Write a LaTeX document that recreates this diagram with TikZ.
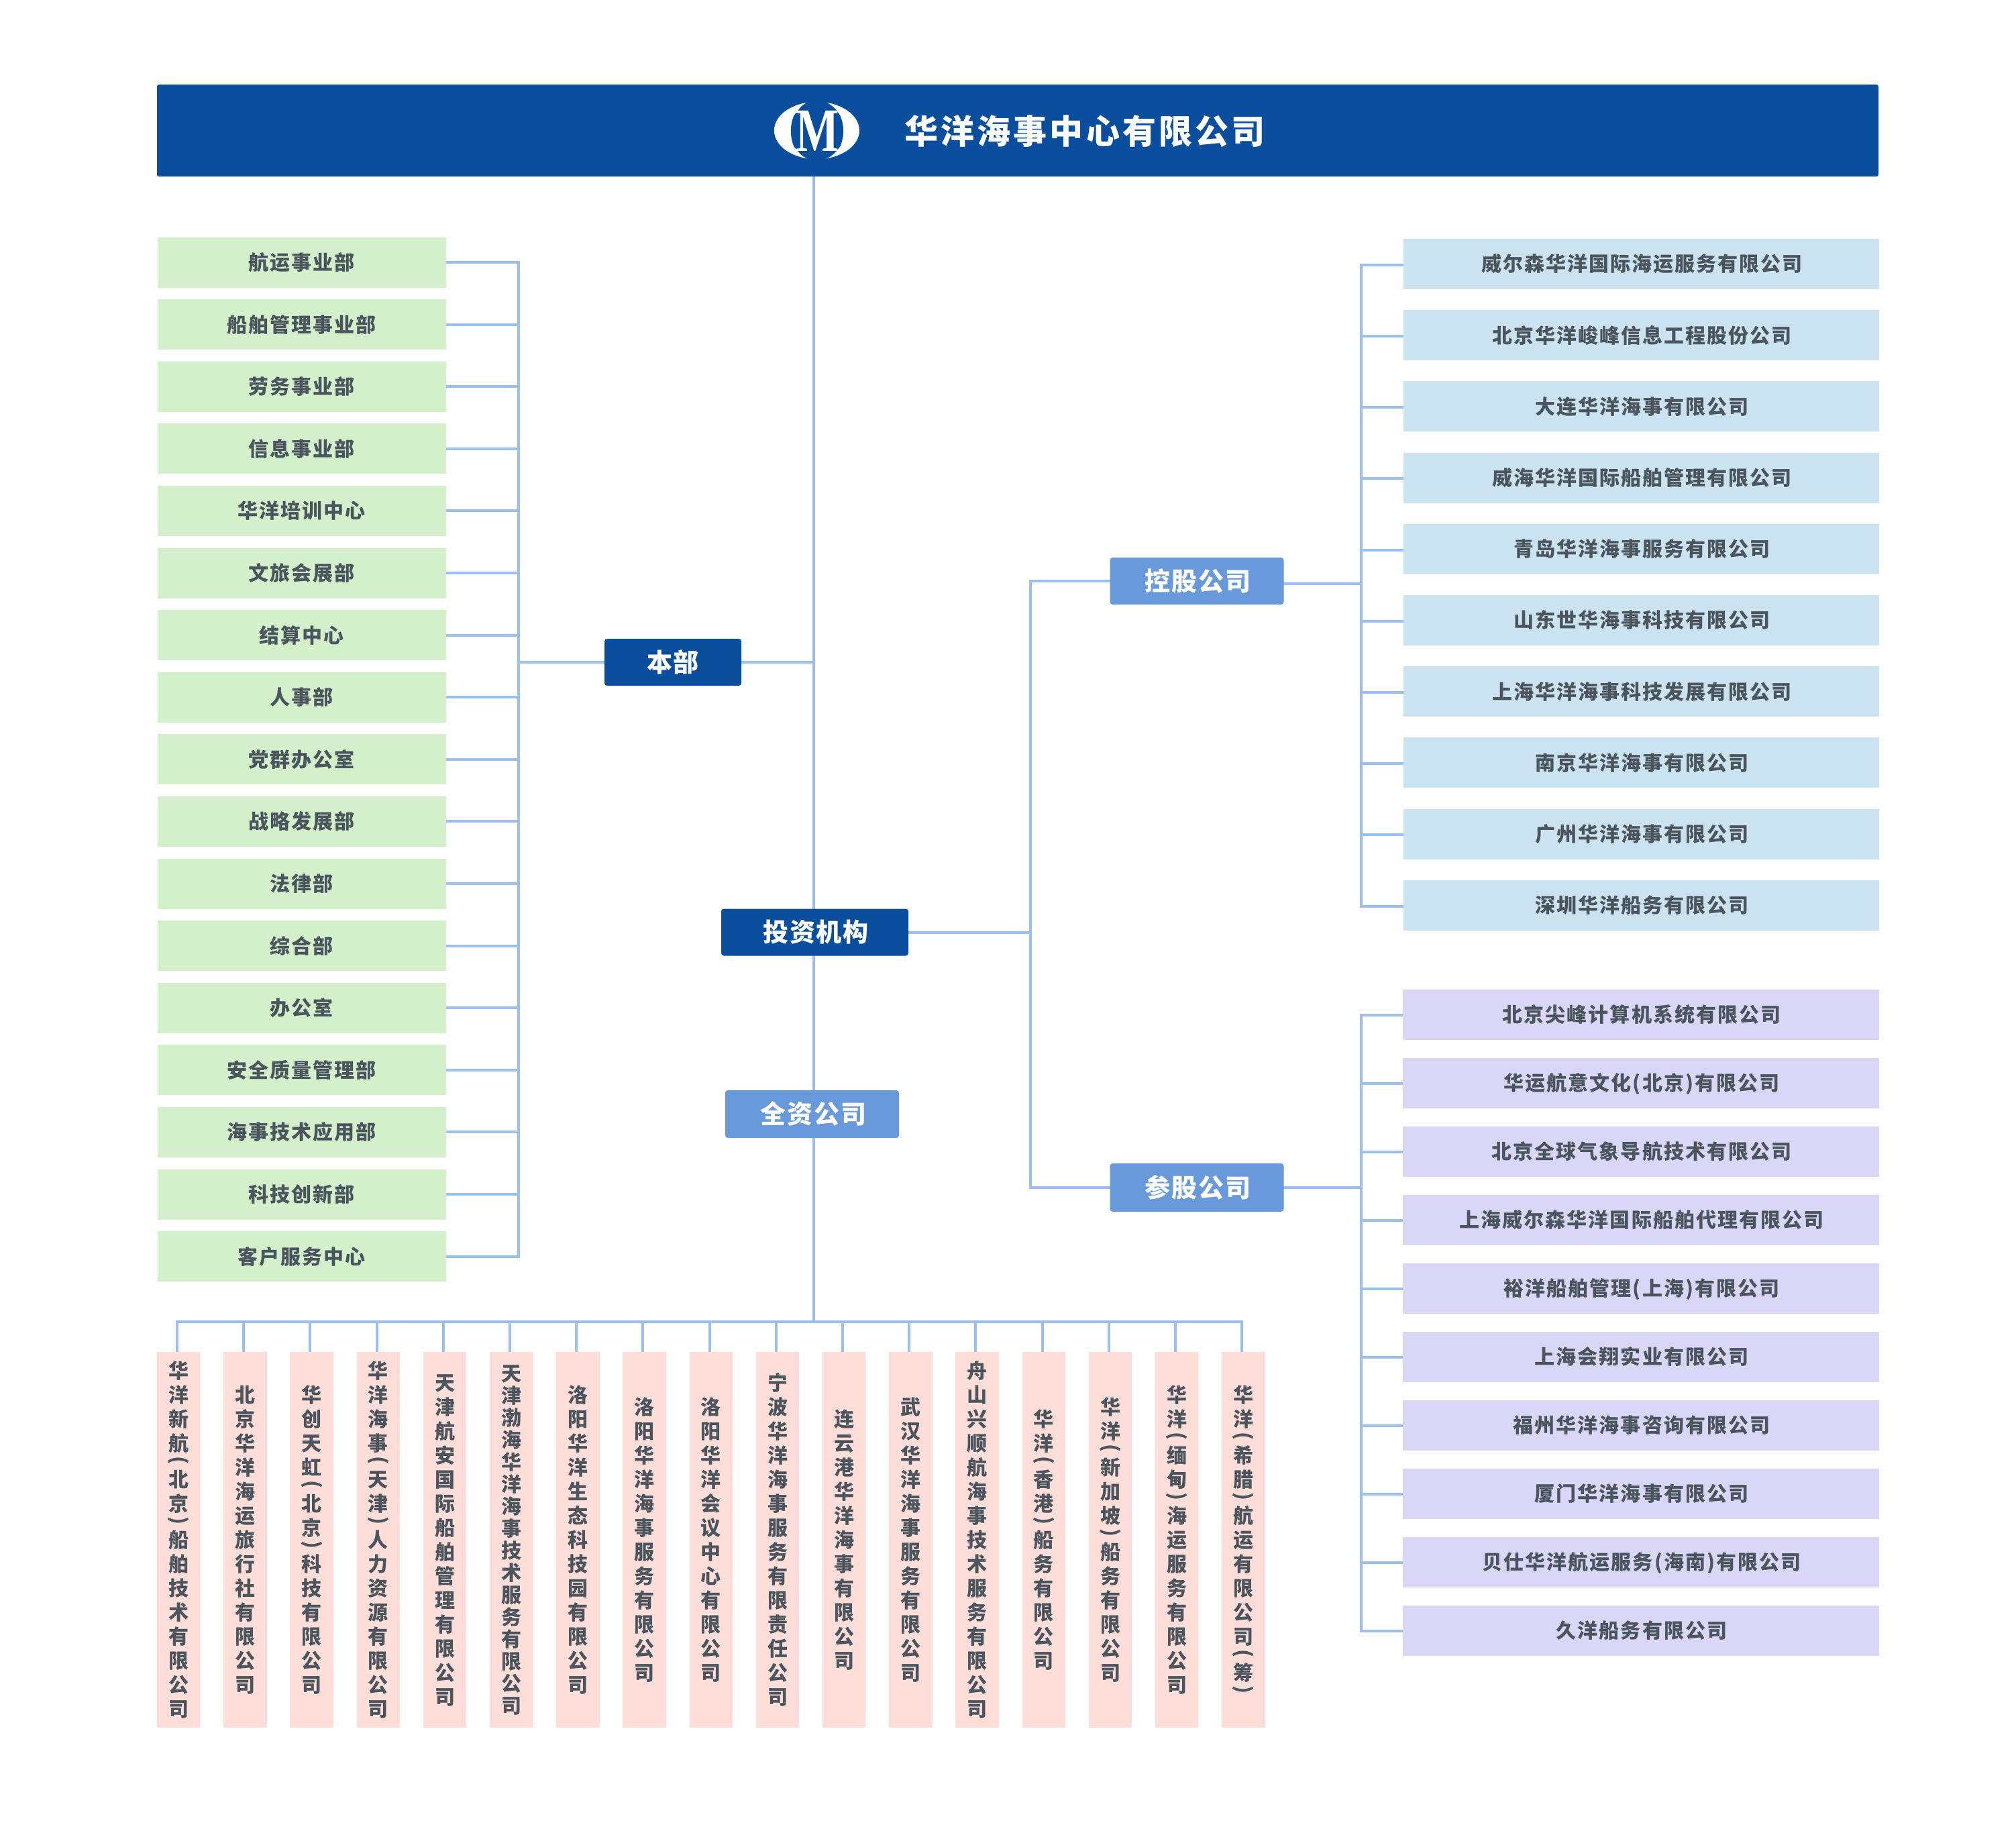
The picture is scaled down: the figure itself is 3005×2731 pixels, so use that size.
\documentclass[tikz,border=0pt]{standalone}
\usepackage{graphicx}
\usepackage{fontspec}
\setmainfont{Noto Sans CJK SC}
\newfontfamily\bodycjk{Noto Sans CJK SC}[LetterSpace=6.7]
\newfontfamily\titlecjk{Noto Sans CJK SC}[LetterSpace=8.4]
\newfontfamily\midcjk{Noto Sans CJK SC}[LetterSpace=5]
\newfontfamily\plaincjk{Noto Sans CJK SC}
\newfontfamily\logoserif{Liberation Serif}
\definecolor{bannerblue}{HTML}{0B4E9D}
\definecolor{midblue}{HTML}{6899DB}
\definecolor{linecol}{HTML}{9CBFED}
\definecolor{greenbox}{HTML}{D3F0CB}
\definecolor{pinkbox}{HTML}{FFDDD8}
\definecolor{bluebox}{HTML}{CBE2F0}
\definecolor{purplebox}{HTML}{DAD6F7}
\definecolor{bodytext}{HTML}{4B555E}
\makeatletter
\def\hk@lp{(}
\def\hk@rp{)}
\newcommand\hk@slotwidth{64pt}
\newcommand\hkpitch{36pt}
\newcommand\hk@one{%
  \ifx\hk@cur\hk@lp
    \vbox to 18pt{\vfil\hbox to \hk@slotwidth{\hss\rotatebox[origin=c]{-90}{(}\hss}\vfil}%
  \else\ifx\hk@cur\hk@rp
    \vbox to 18pt{\vfil\hbox to \hk@slotwidth{\hss\rotatebox[origin=c]{-90}{)}\hss}\vfil}%
  \else
    \vbox to \hkpitch{\vskip\dimexpr \hkpitch/2 + 11.4pt\relax\hbox to \hk@slotwidth{\hss\smash{\hk@cur}\hss}\vfil}%
  \fi\fi}
\newcommand\stackv[1]{\vbox{\offinterlineskip\plaincjk\fontsize{30pt}{36pt}\selectfont\bfseries
  \@tfor\hk@cur:=#1\do{\hk@one}}}
\makeatother
\tikzset{
  conn/.style={draw=linecol,line width=4pt,line cap=rect},
  flat/.style={inner sep=0pt,outer sep=0pt,anchor=center},
  leafbox/.style={flat,minimum height=75pt,text height=26.4pt,text depth=3.6pt,text=bodytext,font=\bodycjk\fontsize{30pt}{34pt}\selectfont\bfseries},
  greenleaf/.style={leafbox,fill=greenbox,minimum width=430pt},
  blueleaf/.style={leafbox,fill=bluebox,minimum width=709pt},
  purpleleaf/.style={leafbox,fill=purplebox,minimum width=710pt},
  pinkleaf/.style={inner sep=0pt,outer sep=0pt,fill=pinkbox,minimum width=64.5pt,minimum height=560pt,text=bodytext,anchor=center},
  hub/.style={flat,rounded corners=4pt,text=white,text height=33.4pt,text depth=4.6pt,font=\midcjk\fontsize{38pt}{42pt}\selectfont\bfseries},
  darkhub/.style={hub,fill=bannerblue},
  lighthub/.style={hub,fill=midblue},
}
\pgfdeclarelayer{bg}
\pgfsetlayers{bg,main}
\begin{document}
\begin{tikzpicture}[x=1pt,y=-1pt]
\useasboundingbox (0,0) rectangle (3005,2731);
% banner
\node[flat,fill=bannerblue,rounded corners=3pt,minimum width=2566pt,minimum height=137pt] (banner) at (1517,194.5) {};
\node[flat,text=white,text height=44pt,text depth=6pt,font=\titlecjk\fontsize{50pt}{54pt}\selectfont\bfseries] (title) at (1617,195) {华洋海事中心有限公司};
% logo
\fill[white] (1217.4,194.5) ellipse [x radius=63.5,y radius=42.7];
\begin{scope}[shift={(1140,140)},x=0.33333pt,y=-0.33333pt]
\fill[bannerblue] (205,30) .. controls (180,42) and (160,55) .. (150,72) -- (130,97)
  .. controls (112,140) and (112,190) .. (130,235) -- (150,258)
  .. controls (160,275) and (180,285) .. (205,294) -- (262,294)
  .. controls (285,285) and (305,275) .. (318,258) -- (337,235)
  .. controls (356,190) and (356,140) .. (337,97) -- (320,72)
  .. controls (305,55) and (285,42) .. (262,30) -- cycle;
\node[inner sep=0pt,text=white,font=\logoserif\fontsize{92pt}{92pt}\selectfont\bfseries] (logoM) at (236,165) {\scalebox{.74}[1]{M}};
\end{scope}
% hubs
\node[darkhub,minimum width=204pt,minimum height=70pt] (benbu) at (1003,987) {本部};
\node[darkhub,minimum width=279pt,minimum height=70pt] (touzi) at (1214.5,1389.5) {\kern3pt投资机构};
\node[lighthub,minimum width=259pt,minimum height=71pt] (quanzi) at (1210.5,1660.5) {\kern4pt全资公司};
\node[lighthub,minimum width=259pt,minimum height=70pt] (konggu) at (1784,866) {\kern3pt控股公司};
\node[lighthub,minimum width=259pt,minimum height=72pt] (cangu) at (1784,1770) {\kern3pt参股公司};
% leaves: left
\foreach \lab [count=\i] in {航运事业部,船舶管理事业部,劳务事业部,信息事业部,华洋培训中心,文旅会展部,结算中心,人事部,党群办公室,战略发展部,法律部,综合部,办公室,安全质量管理部,海事技术应用部,科技创新部,客户服务中心}
  \node[greenleaf] (L\i) at (449.5,{391+92.6*(\i-1)}) {\lab};
% leaves: right blue
\foreach \lab [count=\i] in {威尔森华洋国际海运服务有限公司,北京华洋峻峰信息工程股份公司,大连华洋海事有限公司,威海华洋国际船舶管理有限公司,青岛华洋海事服务有限公司,山东世华海事科技有限公司,上海华洋海事科技发展有限公司,南京华洋海事有限公司,广州华洋海事有限公司,深圳华洋船务有限公司}
  \node[blueleaf] (B\i) at (2446,{393.5+106.2*(\i-1)}) {\kern3pt\lab};
% leaves: right purple
\foreach \lab [count=\i] in {北京尖峰计算机系统有限公司,华运航意文化(北京)有限公司,北京全球气象导航技术有限公司,上海威尔森华洋国际船舶代理有限公司,裕洋船舶管理(上海)有限公司,上海会翔实业有限公司,福州华洋海事咨询有限公司,厦门华洋海事有限公司,贝仕华洋航运服务(海南)有限公司,久洋船务有限公司}
  \node[purpleleaf] (P\i) at (2445.5,{1512.5+102*(\i-1)}) {\kern3pt\lab};
% leaves: bottom
\foreach \lab [count=\i] in {华洋新航(北京)船舶技术有限公司,北京华洋海运旅行社有限公司,华创天虹(北京)科技有限公司,华洋海事(天津)人力资源有限公司,天津航安国际船舶管理有限公司,天津渤海华洋海事技术服务有限公司,洛阳华洋生态科技园有限公司,洛阳华洋海事服务有限公司,洛阳华洋会议中心有限公司,宁波华洋海事服务有限责任公司,连云港华洋海事有限公司,武汉华洋海事服务有限公司,舟山兴顺航海事技术服务有限公司,华洋(香港)船务有限公司,华洋(新加坡)船务有限公司,华洋(缅甸)海运服务有限公司,华洋(希腊)航运有限公司(筹)}
  \node[pinkleaf] (Q\i) at ({266.2+99.2*(\i-1)},2295) {\ifnum\i=6 \def\hkpitch{33pt}\fi\expandafter\stackv\expandafter{\lab}};
% bus coordinates
\coordinate (trunk) at (1213,1970);
\coordinate (lbus) at (773,987);
\coordinate (kbus) at (1536,1390);
\coordinate (rbus) at (2029,870);
\begin{pgfonlayer}{bg}
\fill[white] (0,0) rectangle (3005,2731);
\draw[conn] (trunk |- banner.south) -- (trunk);
\draw[conn] (benbu.east) -- (benbu.east -| trunk);
\draw[conn] (benbu.west) -- (benbu.west -| lbus);
\draw[conn] (L1.east -| lbus) -- (L17.east -| lbus);
\foreach \i in {1,...,17} \draw[conn] (L\i.east) -- (L\i.east -| lbus);
\draw[conn] (touzi.east) -- (touzi.east -| kbus);
\draw[conn] (konggu.west -| kbus) -- (cangu.west -| kbus);
\draw[conn] (konggu.west) -- (konggu.west -| kbus);
\draw[conn] (cangu.west) -- (cangu.west -| kbus);
\draw[conn] ([yshift=-4pt]konggu.east) -- ([yshift=-4pt]konggu.east -| rbus);
\draw[conn] (cangu.east) -- (cangu.east -| rbus);
\draw[conn] ([yshift=-1.2pt]B1.west -| rbus) -- ([yshift=-1.2pt]B10.west -| rbus);
\foreach \i in {1,...,10} \draw[conn] ([yshift=-1.2pt]B\i.west) -- ([yshift=-1.2pt]B\i.west -| rbus);
\draw[conn] ([yshift=-.5pt]P1.west -| rbus) -- ([yshift=-.5pt]P10.west -| rbus);
\foreach \i in {1,...,10} \draw[conn] ([yshift=-.5pt]P\i.west) -- ([yshift=-.5pt]P\i.west -| rbus);
\draw[conn] ([xshift=-2.2pt]Q1.north |- trunk) -- ([xshift=-2.2pt]Q17.north |- trunk);
\foreach \i in {1,...,17} \draw[conn] ([xshift=-2.2pt]Q\i.north) -- ([xshift=-2.2pt]Q\i.north |- trunk);
\end{pgfonlayer}
\end{tikzpicture}
\end{document}
